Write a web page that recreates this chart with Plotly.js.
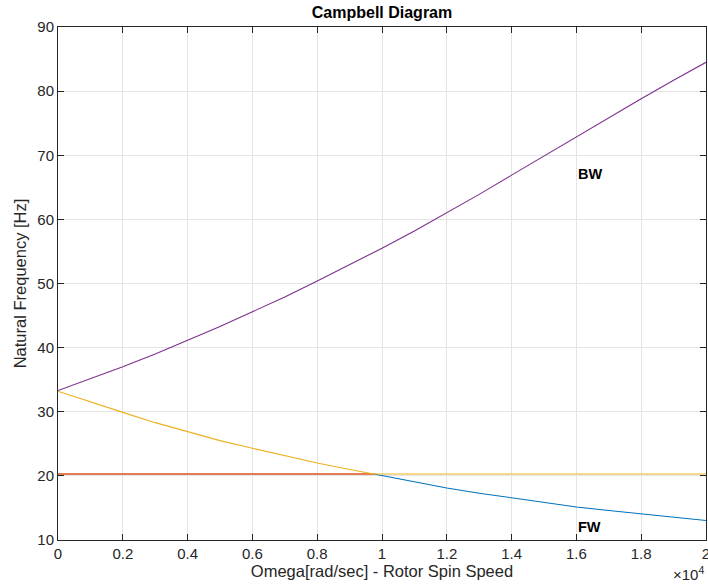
<!DOCTYPE html>
<html>
<head>
<meta charset="utf-8">
<script src="https://cdn.plot.ly/plotly-3.0.1.min.js"></script>
<style>
  html, body { margin: 0; padding: 0; background: #ffffff; }
  #chart { width: 708px; height: 585px; }
</style>
</head>
<body>
<div id="chart"></div>
<script>
// Rotor spin speed samples [rad/sec]
const omega = [0, 1000, 2000, 3000, 4000, 5000, 6000, 7000, 8000, 9000, 10000,
               11000, 12000, 13000, 14000, 15000, 16000, 17000, 18000, 19000, 20000];

// Backward whirl natural frequency [Hz]
const bwFreq = [33.3, 35.1, 37.0, 39.0, 41.1, 43.3, 45.6, 47.9, 50.4, 52.9, 55.5,
                58.2, 61.0, 63.9, 66.9, 69.9, 72.9, 75.9, 78.8, 81.7, 84.5];

// Forward whirl natural frequency [Hz]
const fwFreq = [33.2, 31.5, 29.9, 28.3, 26.9, 25.5, 24.3, 23.1, 22.0, 21.0, 20.05,
                19.05, 18.1, 17.3, 16.55, 15.8, 15.15, 14.6, 14.1, 13.55, 13.05];

// Constant reference frequency and the speed where the FW branch meets it
const refFreq = 20.3;
const crossOmega = 9750;

// Axis ticks (x shown in units of 10^4 rad/sec)
const xTickVals = [0, 2000, 4000, 6000, 8000, 10000, 12000, 14000, 16000, 18000, 20000];
const xTickText = ['0', '0.2', '0.4', '0.6', '0.8', '1', '1.2', '1.4', '1.6', '1.8', '2'];
const yTickVals = [10, 20, 30, 40, 50, 60, 70, 80, 90];

const omegaEnd = omega[omega.length - 1];

// Upper branch: FW above the reference, then the reference level
const upX = [], upY = [];
// Lower branch: reference level, then FW below it
const lowX = [], lowY = [];
for (let i = 0; i < omega.length; i++) {
  if (omega[i] < crossOmega) { upX.push(omega[i]); upY.push(fwFreq[i]); }
}
upX.push(crossOmega, omegaEnd);
upY.push(refFreq, refFreq);

lowX.push(crossOmega); lowY.push(refFreq);
for (let i = 0; i < omega.length; i++) {
  if (omega[i] > crossOmega) { lowX.push(omega[i]); lowY.push(fwFreq[i]); }
}

const refX = [omega[0], crossOmega];
const refY = [refFreq, refFreq];

const traces = [
  { x: lowX, y: lowY, mode: 'lines', line: { color: '#0072BD', width: 1.1 }, hoverinfo: 'skip' },
  { x: refX, y: refY, mode: 'lines', line: { color: '#D95319', width: 1.5 }, hoverinfo: 'skip' },
  { x: upX, y: upY, mode: 'lines', line: { color: '#EDB120', width: 1.1 }, hoverinfo: 'skip' },
  { x: omega, y: bwFreq, mode: 'lines', line: { color: '#7E2F8E', width: 1.1 }, hoverinfo: 'skip' }
];

const axisColor = '#262626';
const family = '"Liberation Sans", Arial, Helvetica, sans-serif';
const tickFont = { family: family, size: 15, color: axisColor };

const layout = {
  width: 708,
  height: 585,
  autosize: false,
  showlegend: false,
  paper_bgcolor: '#ffffff',
  plot_bgcolor: '#ffffff',
  font: tickFont,
  margin: { l: 58, r: 2, t: 27, b: 45 },
  title: {
    text: '<b>Campbell Diagram</b>',
    font: { family: family, size: 16, color: '#000000' },
    x: 0.5, xanchor: 'center', xref: 'paper',
    y: 0.978, yanchor: 'middle'
  },
  xaxis: {
    range: [0, 20000],
    tickvals: xTickVals,
    ticktext: xTickText,
    ticks: 'inside',
    ticklen: 6,
    tickcolor: axisColor,
    ticklabeloverflow: 'allow',
    showline: true,
    linecolor: axisColor,
    linewidth: 1,
    mirror: 'ticks',
    showgrid: true,
    gridcolor: '#e4e4e4',
    gridwidth: 1,
    zeroline: false,
    tickfont: tickFont,
    title: { text: 'Omega[rad/sec] - Rotor Spin Speed', font: { family: family, size: 16.5, color: axisColor }, standoff: 1 }
  },
  yaxis: {
    range: [10, 90],
    tickvals: yTickVals,
    ticks: 'inside',
    ticklen: 6,
    tickcolor: axisColor,
    showline: true,
    linecolor: axisColor,
    linewidth: 1,
    mirror: 'ticks',
    showgrid: true,
    gridcolor: '#e4e4e4',
    gridwidth: 1,
    zeroline: false,
    tickfont: tickFont,
    title: { text: 'Natural Frequency [Hz]', font: { family: family, size: 16.5, color: axisColor }, standoff: 6 }
  },
  annotations: [
    { x: 16000, y: 67, xref: 'x', yref: 'y', text: '<b>BW</b>', showarrow: false,
      xanchor: 'left', yanchor: 'middle', font: { family: family, size: 14.5, color: '#000000' } },
    { x: 16000, y: 12, xref: 'x', yref: 'y', text: '<b>FW</b>', showarrow: false,
      xanchor: 'left', yanchor: 'middle', font: { family: family, size: 14.5, color: '#000000' } },
    { x: 1, y: -0.066, xref: 'paper', yref: 'paper', text: '\u00d710<sup>4</sup>', showarrow: false,
      xanchor: 'right', yanchor: 'middle', xshift: -1, borderpad: 0, font: { family: family, size: 15, color: axisColor } }
  ]
};

Plotly.newPlot('chart', traces, layout, { staticPlot: true, displayModeBar: false });
</script>
</body>
</html>
